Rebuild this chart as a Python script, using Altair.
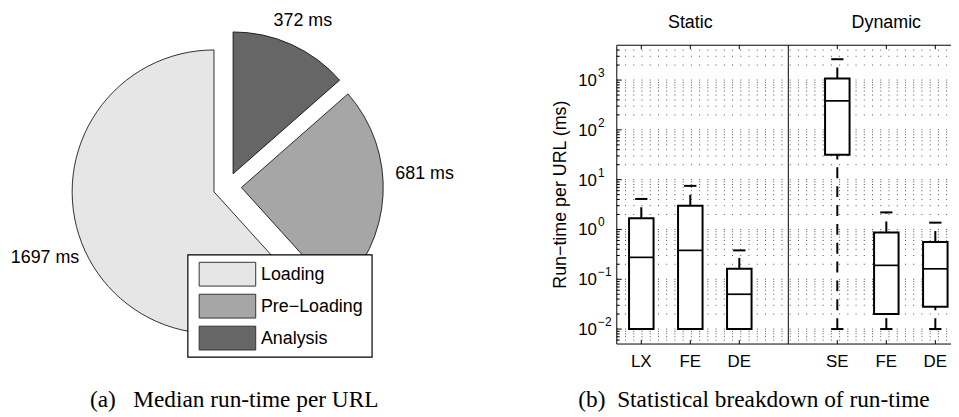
import altair as alt
import pandas as pd

# ---------------- data ----------------
pie_cats = ["Loading", "Pre-Loading", "Analysis"]
pie_legend = ["Loading", "Pre\u2212Loading", "Analysis"]
pie_vals = [1697, 681, 372]

box_names = ["LX", "FE", "DE", "SE", "FE", "DE"]
box_pos = [1, 2, 3, 5, 6, 7]
box_q1 = [0.01, 0.01, 0.01, 31.6, 0.02, 0.028]
box_med = [0.275, 0.38, 0.05, 382, 0.19, 0.162]
box_q3 = [1.68, 2.99, 0.162, 1080, 0.87, 0.56]
box_lo = [0.01, 0.01, 0.01, 0.01, 0.01, 0.01]
box_hi = [4.1, 7.5, 0.38, 2620, 2.2, 1.37]

panel_names = ["Static", "Dynamic"]
panel_pos = [2, 6]
sep_pos = [4]

ytick_vals = [0.01, 0.1, 1, 10, 100, 1000]
ytick_exp = ["\u22122", "\u22121", "0", "1", "2", "3"]
ymin_vals = [m * 10.0 ** k for k in range(-3, 4) for m in range(2, 10)
             if 0.0051 < m * 10.0 ** k < 4999]
grid_vals = sorted(ytick_vals + ymin_vals)

caption_a = "(a)\u00a0\u00a0\u00a0Median run-time per URL"
caption_b = "(b)\u00a0\u00a0Statistical breakdown of run-time"
ytitle = "Run\u2212time per URL (ms)"

# ---------------- layout / style ----------------
OX, OY = 621.7, 43.9          # page position of plot area origin
W, H = 336.9, 301.2
UNIT = 49.4
XMAX = 0.5 + W / UNIT
YS = alt.Scale(type="log", domain=[0.005, 5000])
XS = alt.Scale(domain=[0.5, XMAX])

def rx(px):
    return px - OX

def ry(py):
    return py - OY

PCX, PCY = rx(229.0), ry(186.5)
R = 143.0
EXP = 14.3
LR = 1.2 * R
pie_colors = ["#e6e6e6", "#a6a6a6", "#666666"]
label_nudge = {"Loading": (-10.2, 4.8), "Pre-Loading": (13.3, -23.6), "Analysis": (-0.4, 2.5)}
SANS = "Liberation Sans"
SERIF = "Liberation Serif"

pie_df = pd.DataFrame({"cat": pie_cats, "value": pie_vals, "order": list(range(len(pie_cats)))})
leg_df = pd.DataFrame({"cat": pie_cats, "leg": pie_legend, "i": list(range(len(pie_cats)))})
box_df = pd.DataFrame({"name": box_names, "pos": box_pos, "q1": box_q1, "med": box_med,
                       "q3": box_q3, "lo": box_lo, "hi": box_hi})
panel_df = pd.DataFrame({"name": panel_names, "pos": panel_pos})
sep_df = pd.DataFrame({"pos": sep_pos})
ytick_df = pd.DataFrame({"v": ytick_vals, "e": ytick_exp})
ymin_df = pd.DataFrame({"v": ymin_vals})
grid_df = pd.DataFrame({"v": grid_vals})
one = pd.DataFrame({"a": [0]})

fill_scale = alt.Scale(domain=pie_cats, range=pie_colors)

# ---------------- pie ----------------
pie_base = (
    alt.Chart(pie_df)
    .transform_joinaggregate(total="sum(value)")
    .transform_window(cum="sum(value)", sort=[alt.SortField("order")], frame=[None, 0])
    .transform_calculate(a0="2*PI*(1 - datum.cum/datum.total)")
    .transform_calculate(a1="2*PI*(1 - (datum.cum - datum.value)/datum.total)")
    .transform_calculate(mid="(datum.a0 + datum.a1)/2")
    .transform_calculate(cx=f"{PCX} + {EXP}*sin(datum.mid)")
    .transform_calculate(cy=f"{PCY} - {EXP}*cos(datum.mid)")
    .transform_calculate(lx=f"datum.cx + {LR}*sin(datum.mid)")
    .transform_calculate(ly=f"datum.cy - {LR}*cos(datum.mid)")
    .transform_calculate(lab="datum.value + ' ms'")
)

arcs = pie_base.mark_arc(stroke="black", strokeWidth=0.8).encode(
    theta=alt.Theta("a0:Q", scale=None),
    theta2=alt.Theta2("a1"),
    radius=alt.value(R),
    x=alt.X("cx:Q", scale=None, axis=None),
    y=alt.Y("cy:Q", scale=None, axis=None),
    fill=alt.Fill("cat:N", scale=fill_scale, legend=None),
)

pie_labels = []
for c in pie_cats:
    dx, dy = label_nudge[c]
    pie_labels.append(
        pie_base.transform_filter(alt.datum.cat == c)
        .mark_text(font=SANS, fontSize=18, align="center", baseline="middle", dx=dx, dy=dy, color="black")
        .encode(x=alt.X("lx:Q", scale=None, axis=None),
                y=alt.Y("ly:Q", scale=None, axis=None),
                text="lab:N")
    )

# ---------------- legend ----------------
LEG_Y0, LEG_STEP, SW_H = ry(262.7), 32.2, 24
leg_box = alt.Chart(one).mark_rect(fill="white", stroke="black", strokeWidth=1.2).encode(
    x=alt.value(rx(189.3)), x2=alt.value(rx(375.0)),
    y=alt.value(ry(255.3)), y2=alt.value(ry(358.3)),
)
leg_base = (
    alt.Chart(leg_df)
    .transform_calculate(sy=f"{LEG_Y0} + datum.i*{LEG_STEP}")
    .transform_calculate(sy2=f"datum.sy + {SW_H}")
    .transform_calculate(ty=f"datum.sy + {SW_H/2}")
)
leg_sw = leg_base.mark_rect(stroke="#333333", strokeWidth=1).encode(
    x=alt.value(rx(200.7)), x2=alt.value(rx(257.7)),
    y=alt.Y("sy:Q", scale=None, axis=None), y2=alt.Y2("sy2"),
    fill=alt.Fill("cat:N", scale=fill_scale, legend=None),
)
leg_txt = leg_base.mark_text(font=SANS, fontSize=18, align="left", baseline="middle", dy=1.3, color="black").encode(
    x=alt.value(rx(263.0)),
    y=alt.Y("ty:Q", scale=None, axis=None),
    text="leg:N",
)

# ---------------- box plot ----------------
box_base = (
    alt.Chart(box_df)
    .transform_calculate(x0="datum.pos - 0.25", x1="datum.pos + 0.25")
    .transform_calculate(c0="datum.pos - 0.125", c1="datum.pos + 0.125")
)

grid = alt.Chart(grid_df).mark_rule(color="black", strokeWidth=1, opacity=0.7, strokeDash=[1, 7.3]).encode(
    x=alt.value(0), x2=alt.value(W), y=alt.Y("v:Q", scale=YS, axis=None))

top_frame = alt.Chart(one).mark_rule(color="black", strokeWidth=1).encode(
    x=alt.value(0), x2=alt.value(W), y=alt.value(0))
bot_frame = alt.Chart(one).mark_rule(color="black", strokeWidth=1).encode(
    x=alt.value(0), x2=alt.value(W), y=alt.value(H))
left_frame = alt.Chart(one).mark_rule(color="black", strokeWidth=1).encode(
    x=alt.value(0), y=alt.value(0), y2=alt.value(H))
sep = alt.Chart(sep_df).mark_rule(color="black", strokeWidth=1).encode(
    x=alt.X("pos:Q", scale=XS, axis=None), y=alt.value(0), y2=alt.value(H))

lt_major = alt.Chart(ytick_df).mark_rule(color="black", strokeWidth=1).encode(
    x=alt.value(0), x2=alt.value(5), y=alt.Y("v:Q", scale=YS, axis=None))
lt_minor = alt.Chart(ymin_df).mark_rule(color="black", strokeWidth=1).encode(
    x=alt.value(0), x2=alt.value(3), y=alt.Y("v:Q", scale=YS, axis=None))
top_ticks = alt.Chart(box_df).mark_rule(color="black", strokeWidth=1).encode(
    x=alt.X("pos:Q", scale=XS, axis=None), y=alt.value(0), y2=alt.value(4))
bot_ticks = alt.Chart(box_df).mark_rule(color="black", strokeWidth=1).encode(
    x=alt.X("pos:Q", scale=XS, axis=None), y=alt.value(H - 4), y2=alt.value(H))

dash = [11, 8]
wh_up = box_base.mark_rule(color="black", strokeWidth=2, strokeDash=dash).encode(
    x=alt.X("pos:Q", scale=XS, axis=None),
    y=alt.Y("q3:Q", scale=YS, axis=None), y2=alt.Y2("hi"))
wh_lo = box_base.mark_rule(color="black", strokeWidth=2, strokeDash=dash).encode(
    x=alt.X("pos:Q", scale=XS, axis=None),
    y=alt.Y("lo:Q", scale=YS, axis=None), y2=alt.Y2("q1"))

boxes = box_base.mark_rect(fill="white", stroke="black", strokeWidth=2).encode(
    x=alt.X("x0:Q", scale=XS, axis=None),
    x2=alt.X2("x1"),
    y=alt.Y("q1:Q", scale=YS, axis=None),
    y2=alt.Y2("q3"),
)
meds = box_base.mark_rule(color="black", strokeWidth=1.7).encode(
    x=alt.X("x0:Q", scale=XS, axis=None), x2=alt.X2("x1"),
    y=alt.Y("med:Q", scale=YS, axis=None))
cap_hi = box_base.mark_rule(color="black", strokeWidth=2).encode(
    x=alt.X("c0:Q", scale=XS, axis=None), x2=alt.X2("c1"),
    y=alt.Y("hi:Q", scale=YS, axis=None))
cap_lo = box_base.mark_rule(color="black", strokeWidth=2).encode(
    x=alt.X("c0:Q", scale=XS, axis=None), x2=alt.X2("c1"),
    y=alt.Y("lo:Q", scale=YS, axis=None))

xlabels = alt.Chart(box_df).mark_text(font=SANS, fontSize=17, align="center", baseline="alphabetic", color="black").encode(
    x=alt.X("pos:Q", scale=XS, axis=None), y=alt.value(ry(368.4)), text="name:N")
ten = alt.Chart(ytick_df).mark_text(font=SANS, fontSize=17, align="right", baseline="middle", dy=1, text="10", color="black").encode(
    x=alt.value(rx(601.7)), y=alt.Y("v:Q", scale=YS, axis=None))
expo = alt.Chart(ytick_df).mark_text(font=SANS, fontSize=12, align="left", baseline="alphabetic", dy=-3, color="black").encode(
    x=alt.value(rx(602.7)), y=alt.Y("v:Q", scale=YS, axis=None), text="e:N")
ptitles = alt.Chart(panel_df).mark_text(font=SANS, fontSize=18, align="center", baseline="middle", color="black").encode(
    x=alt.X("pos:Q", scale=XS, axis=None), y=alt.value(ry(21.1)), text="name:N")
ytitle_mark = alt.Chart(one).mark_text(font=SANS, fontSize=18, align="center", baseline="middle", angle=270,
                                       text=ytitle, color="black").encode(
    x=alt.value(rx(565.5)), y=alt.value(ry(194.5)))

cap_a = alt.Chart(one).mark_text(font=SERIF, fontSize=23.5, align="center", baseline="alphabetic",
                                 text=caption_a, color="black").encode(
    x=alt.value(rx(236.0)), y=alt.value(ry(409.0)))
cap_b = alt.Chart(one).mark_text(font=SERIF, fontSize=23.5, align="center", baseline="alphabetic",
                                 text=caption_b, color="black").encode(
    x=alt.value(rx(760.0)), y=alt.value(ry(409.0)))

chart = alt.layer(
    grid, arcs, *pie_labels, leg_box, leg_sw, leg_txt,
    top_frame, bot_frame, left_frame, sep, lt_major, lt_minor, top_ticks, bot_ticks,
    wh_up, wh_lo, boxes, meds, cap_hi, cap_lo,
    xlabels, ten, expo, ptitles, ytitle_mark, cap_a, cap_b,
).properties(
    width=W, height=H,
    autosize=alt.AutoSizeParams(type="none"),
    padding={"left": OX - 8, "top": OY - 8, "right": 0, "bottom": 409 - (OY - 8) - H},
    background="white",
).configure_view(stroke=None)

chart.save("out.html", embed_options={"renderer": "svg", "actions": False})
